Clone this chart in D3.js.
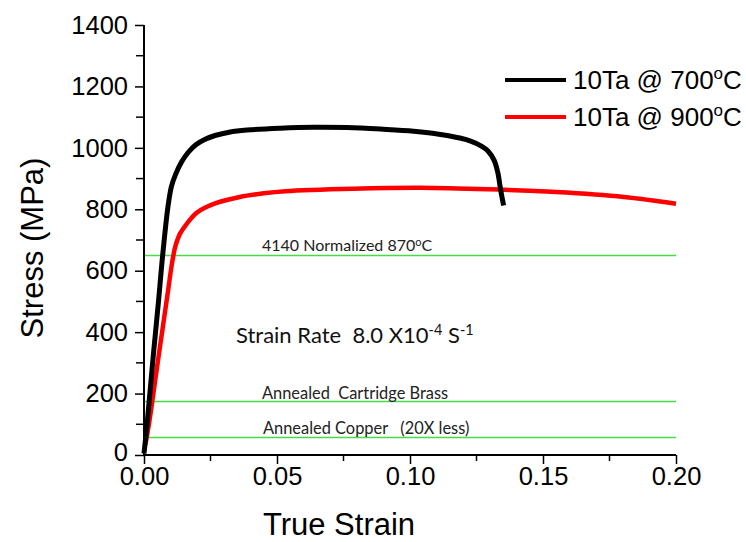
<!DOCTYPE html>
<html>
<head>
<meta charset="utf-8">
<script src="https://cdn.jsdelivr.net/npm/d3@7/dist/d3.min.js"></script>
<style>
  html, body { margin: 0; padding: 0; background: #fff; }
  svg { display: block; }
  text { white-space: pre; }
</style>
</head>
<body>
<svg id="chart" width="746" height="542"></svg>
<script>
// ---- data ----
const strain700 = [0.0000, 0.0012, 0.0034, 0.0055, 0.0069, 0.0090, 0.0103, 0.0118, 0.0140, 0.0165, 0.0195, 0.0230, 0.0270, 0.0320, 0.0387, 0.0512, 0.0638, 0.0763, 0.0889, 0.1014, 0.1140, 0.1228, 0.1270, 0.1293, 0.1316, 0.1330, 0.1340, 0.1352];
const stress700 = [5, 104, 315, 505, 640, 808, 874, 912, 952, 984, 1010, 1028, 1041, 1051, 1058, 1064, 1067, 1066, 1061, 1054, 1040, 1022, 1005, 990, 960, 920, 867, 812];

const strain900 = [0.0005, 0.0019, 0.0053, 0.0088, 0.0103, 0.0110, 0.0118, 0.0135, 0.0160, 0.0200, 0.0270, 0.0360, 0.0450, 0.0531, 0.0786, 0.1040, 0.1295, 0.1550, 0.1804, 0.2000];
const stress900 = [33, 103, 310, 520, 612, 648, 680, 720, 752, 790, 820, 840, 852, 859, 867, 870, 865, 856, 840, 818];

const seriesNames = ["10Ta @ 700", "10Ta @ 900"];
const refLevels = [650, 175, 57];
const refLabels = ["4140 Normalized 870", "Annealed  Cartridge Brass", "Annealed Copper   (20X less)"];

const xTicks = [0, 0.05, 0.10, 0.15, 0.20];
const xMinor = [0.025, 0.075, 0.125, 0.175];
const yTicks = [0, 200, 400, 600, 800, 1000, 1200, 1400];
const yMinor = [100, 300, 500, 700, 900, 1100, 1300];

// ---- layout ----
const svg = d3.select("#chart");
const plot = { left: 144, right: 676, top: 25, bottom: 455 };
const x = d3.scaleLinear().domain([0, 0.2]).range([plot.left, plot.right]);
const y = d3.scaleLinear().domain([0, 1400]).range([plot.bottom, plot.top]);

const axisFont = "'Liberation Sans', Arial, sans-serif";
const noteFont = "Lato, 'Open Sans', sans-serif";

// reference lines
const refG = svg.append("g");
refLevels.forEach(v => {
  refG.append("line")
    .attr("x1", plot.left).attr("x2", plot.right)
    .attr("y1", Math.round(y(v)) + 0.5).attr("y2", Math.round(y(v)) + 0.5)
    .attr("stroke", "#44dd44").attr("stroke-width", 1.3);
});

// curves
const line = d3.line().x(d => x(d[0])).y(d => y(d[1])).curve(d3.curveCatmullRom.alpha(0.5));
const d700 = strain700.map((s, i) => [s, stress700[i]]);
const d900 = strain900.map((s, i) => [s, stress900[i]]);
svg.append("path").datum(d900).attr("d", line)
  .attr("fill", "none").attr("stroke", "#ff0000").attr("stroke-width", 4.5)
  .attr("stroke-linejoin", "round");
svg.append("path").datum(d700).attr("d", line)
  .attr("fill", "none").attr("stroke", "#000000").attr("stroke-width", 5)
  .attr("stroke-linejoin", "round");

// axes
const xAxis = d3.axisBottom(x).tickValues(xTicks).tickFormat(d3.format(".2f")).tickSize(9).tickPadding(3);
const yAxis = d3.axisLeft(y).tickValues(yTicks).tickFormat(d3.format("d")).tickSize(9).tickPadding(7);

const gx = svg.append("g").attr("transform", `translate(0,${plot.bottom})`).call(xAxis);
const gy = svg.append("g").attr("transform", `translate(${plot.left},0)`).call(yAxis);
[gx, gy].forEach(g => {
  g.select(".domain").attr("stroke", "#000").attr("stroke-width", 2);
  g.selectAll(".tick line").attr("stroke", "#000").attr("stroke-width", 1.5);
  g.selectAll(".tick text").attr("fill", "#000").style("font-family", axisFont).style("font-size", "25.5px");
});
gx.select(".domain").attr("d", `M${plot.left},0H${plot.right}`);
gy.select(".domain").attr("d", `M0,${plot.bottom}V${plot.top}`);
// keep the x "0.00" and y "0" labels apart as in the reference
gy.selectAll(".tick text").filter(d => d === 0).attr("dy", "0.2em");

// minor ticks
svg.append("g").selectAll("line").data(xMinor).join("line")
  .attr("x1", d => x(d)).attr("x2", d => x(d))
  .attr("y1", plot.bottom).attr("y2", plot.bottom + 6)
  .attr("stroke", "#000").attr("stroke-width", 1.5);
svg.append("g").selectAll("line").data(yMinor).join("line")
  .attr("y1", d => y(d)).attr("y2", d => y(d))
  .attr("x1", plot.left - 8).attr("x2", plot.left)
  .attr("stroke", "#000").attr("stroke-width", 1.5);

// axis titles
svg.append("text")
  .attr("x", 339).attr("y", 535)
  .attr("text-anchor", "middle")
  .style("font-family", axisFont).style("font-size", "31px")
  .text("True Strain");
svg.append("text")
  .attr("transform", `translate(43,${(plot.top + plot.bottom) / 2 + 8}) rotate(-90)`)
  .attr("text-anchor", "middle")
  .style("font-family", axisFont).style("font-size", "31px")
  .text("Stress (MPa)");

// legend
const legend = svg.append("g");
const legendColors = ["#000000", "#ff0000"];
const legendY = [80, 117];
seriesNames.forEach((name, i) => {
  legend.append("line")
    .attr("x1", 505).attr("x2", 566)
    .attr("y1", legendY[i]).attr("y2", legendY[i])
    .attr("stroke", legendColors[i]).attr("stroke-width", 4);
  const t = legend.append("text")
    .attr("x", 573).attr("y", legendY[i] + 9)
    .style("font-family", axisFont).style("font-size", "26px");
  t.append("tspan").text(name);
  t.append("tspan").attr("dy", -10).style("font-size", "17px").text("o");
  t.append("tspan").attr("dy", 10).text("C");
});

// annotations
const n1 = svg.append("text").attr("x", 262).attr("y", 251)
  .style("font-family", noteFont).style("font-size", "16px").attr("fill", "#222");
n1.append("tspan").text(refLabels[0]);
n1.append("tspan").attr("dy", -5).style("font-size", "11px").text("o");
n1.append("tspan").attr("dy", 5).text("C");

svg.append("text").attr("x", 262).attr("y", 399)
  .style("font-family", noteFont).style("font-size", "16.4px").attr("fill", "#222")
  .text(refLabels[1]);
svg.append("text").attr("x", 263).attr("y", 434)
  .style("font-family", noteFont).style("font-size", "16.4px").attr("fill", "#222")
  .text(refLabels[2]);

const sr = svg.append("text").attr("x", 236).attr("y", 343)
  .style("font-family", noteFont).style("font-size", "22px").attr("fill", "#111");
sr.append("tspan").text("Strain Rate  8.0 X10");
sr.append("tspan").attr("dy", -8).style("font-size", "14.5px").text("-4");
sr.append("tspan").attr("dy", 8).text(" S");
sr.append("tspan").attr("dy", -8).style("font-size", "14.5px").text("-1");
</script>
</body>
</html>
